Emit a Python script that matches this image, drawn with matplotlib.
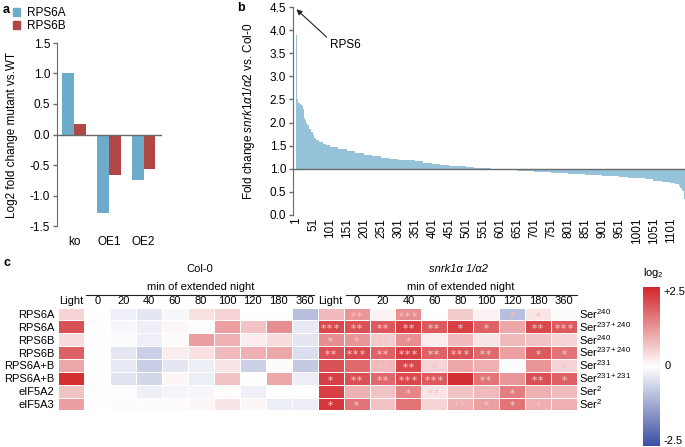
import matplotlib.pyplot as plt
import numpy as np
from matplotlib.colors import LinearSegmentedColormap
from matplotlib.patches import Patch

plt.rcParams['font.family'] = ['Liberation Sans', 'DejaVu Sans']
plt.rcParams['mathtext.fontset'] = 'custom'
plt.rcParams['mathtext.rm'] = 'Liberation Sans'
plt.rcParams['mathtext.it'] = 'Liberation Sans:italic'

# ---- panel a data
a_groups = ['ko', 'OE1', 'OE2']
a_rps6a = [1.0, -1.28, -0.75]
a_rps6b = [0.17, -0.66, -0.57]

# ---- panel b data (rank, fold change)
b_rank = [1, 2, 3, 4, 5, 6, 8, 10, 12, 15, 18, 21, 24, 26, 28, 31, 35, 40, 45, 50,
          55, 60, 70, 80, 90, 100, 125, 150, 175, 200, 225, 250, 275, 300, 325, 350,
          375, 400, 425, 450, 475, 500, 525, 550, 575, 600, 625, 650, 675, 700, 725,
          750, 775, 800, 825, 850, 875, 900, 925, 950, 975, 1000, 1025, 1050, 1075,
          1100, 1115, 1125, 1130, 1135, 1140, 1142]
b_fold = [4.5, 3.9, 2.75, 2.7, 2.5, 2.45, 2.43, 2.42, 2.4, 2.38, 2.35, 2.3, 2.25, 2.1,
          2.05, 2.0, 1.95, 1.87, 1.8, 1.72, 1.66, 1.62, 1.58, 1.54, 1.51, 1.48, 1.43,
          1.38, 1.34, 1.3, 1.27, 1.24, 1.22, 1.2, 1.18, 1.16, 1.13, 1.11, 1.09, 1.07,
          1.05, 1.03, 1.02, 1.01, 1.0, 0.99, 0.97, 0.96, 0.95, 0.93, 0.92, 0.91, 0.9,
          0.89, 0.88, 0.87, 0.86, 0.85, 0.84, 0.82, 0.81, 0.79, 0.77, 0.74, 0.72,
          0.7, 0.66, 0.62, 0.58, 0.52, 0.42, 0.35]
b_ticks = list(range(1, 1102, 50))

# ---- panel c data
c_rows = ['RPS6A', 'RPS6A', 'RPS6B', 'RPS6B', 'RPS6A+B', 'RPS6A+B', 'eIF5A2', 'eIF5A3']
c_sites = [r'Ser$^{240}$', r'Ser$^{237+240}$', r'Ser$^{240}$', r'Ser$^{237+240}$',
           r'Ser$^{231}$', r'Ser$^{231+231}$', r'Ser$^{2}$', r'Ser$^{2}$']
c_cols = ['Light', '0', '20', '40', '60', '80', '100', '120', '180', '360']
c_col0 = [
    [0.5, 0, -0.2, -0.35, -0.1, 0.35, 0.5, 0.0, 0.0, -0.9],
    [2.0, 0, -0.1, -0.2, 0.1, -0.05, 1.1, 0.7, 1.3, -0.3],
    [0.4, 0, -0.05, -0.2, 0.05, 1.1, 0.9, 0.2, 0.4, -0.35],
    [1.8, 0, -0.35, -0.65, 0.2, 0.35, 0.8, 0.9, 1.0, -0.45],
    [1.0, 0, -0.3, -0.7, -0.35, -0.25, 0.3, -0.65, 0.05, -0.75],
    [2.4, 0, -0.4, -0.55, 0.1, -0.25, 0.7, 0.0, 1.0, -0.25],
    [0.7, 0, -0.05, -0.2, -0.15, -0.1, 0.05, -0.2, 0.0, 0.0],
    [1.1, 0, -0.05, -0.05, 0.05, 0.1, 0.3, 0.1, -0.25, -0.25],
]
c_snrk = [
    [0.8, 1.2, 0.15, 1.3, 0.0, 0.6, 0.15, -0.9, 0.3, 0.05],
    [2.1, 2.0, 1.9, 2.2, 1.9, 2.2, 1.8, 1.0, 2.1, 1.9],
    [1.3, 1.2, 0.6, 1.3, 0.2, 0.8, 0.3, 0.8, 0.7, 0.5],
    [2.0, 2.1, 1.8, 2.2, 1.8, 2.0, 1.7, 1.1, 1.9, 1.6],
    [2.0, 1.7, 0.8, 2.1, 0.5, 1.0, 0.9, -0.05, 1.2, 0.5],
    [2.2, 2.0, 1.7, 2.1, 1.9, 2.4, 1.6, 1.2, 2.0, 1.8],
    [2.2, 0.9, 0.7, 1.4, 0.3, 0.7, 0.8, 1.5, 0.9, 0.8],
    [2.3, 1.6, 0.7, 1.6, 0.5, 0.9, 1.1, 1.6, 0.9, 0.9],
]
c_snrk_stars = [
    ['', '**', '', '***', '', '', '', '*', '*', ''],
    ['***', '**', '**', '**', '**', '*', '*', '', '**', '***'],
    ['*', '*', '**', '*', '', '', '', '', '', ''],
    ['**', '***', '**', '***', '**', '***', '**', '', '*', '*'],
    ['', '', '**', '**', '*', '', '', '', '', '*'],
    ['*', '**', '**', '***', '***', '', '**', '', '**', '*'],
    ['', '', '**', '*', '**', '**', '**', '*', '', ''],
    ['*', '*', '***', '', '', '**', '*', '*', '*', ''],
]

W, H = 685, 447
fig = plt.figure(figsize=(W / 100, H / 100), dpi=100)


def box(x0, y0, x1, y1):
    # pixel box (top-left origin) -> figure fraction rect
    return [x0 / W, 1 - y1 / H, (x1 - x0) / W, (y1 - y0) / H]


blue = '#6cacca'
red = '#b04646'
spine_col = '#6a6a6a'
fs = 8.5

# ================= panel a
ax_a = fig.add_axes(box(57, 43, 162, 226))
xa = np.arange(len(a_groups))
bw = 0.343
ax_a.bar(xa - bw / 2, a_rps6a, bw, color=blue, linewidth=0)
ax_a.bar(xa + bw / 2, a_rps6b, bw, color=red, linewidth=0)
ax_a.axhline(0, color=spine_col, lw=1)
ax_a.set_xlim(-0.49, 2.53)
ax_a.set_ylim(-1.5, 1.5)
ax_a.set_yticks(np.arange(-1.5, 1.51, 0.5))
ax_a.set_yticklabels(['%.1f' % v for v in np.arange(-1.5, 1.51, 0.5)], fontsize=fs)
ax_a.set_xticks(xa)
ax_a.set_xticklabels(a_groups, fontsize=fs)
ax_a.tick_params(axis='x', length=0, pad=7)
ax_a.tick_params(axis='y', length=3, color=spine_col, width=1, pad=2)
for s in ['top', 'right', 'bottom']:
    ax_a.spines[s].set_visible(False)
ax_a.spines['left'].set_color(spine_col)
ax_a.set_ylabel('Log2 fold change mutant vs.WT', fontsize=fs)
ax_a.yaxis.set_label_coords(-0.37, 0.5)

fig.legend(handles=[Patch(color=blue, label='RPS6A'), Patch(color=red, label='RPS6B')],
           loc='upper left', bbox_to_anchor=(13 / W, 1 - 7 / H), frameon=False,
           fontsize=fs, handlelength=0.6, handleheight=0.6, handletextpad=0.6,
           labelspacing=0.1, borderaxespad=0, borderpad=0)

# ================= panel b
ax_b = fig.add_axes(box(293, 7, 685, 215))
widths = np.append(np.diff(b_rank), 1)
ax_b.bar(np.array(b_rank) - 0.5, np.array(b_fold) - 1, width=widths, bottom=1,
         align='edge', color='#96c3da', linewidth=0)
ax_b.axhline(1.0, color=spine_col, lw=1)
ax_b.set_xlim(-8, 1143)
ax_b.set_ylim(0, 4.5)
ax_b.set_yticks(np.arange(0, 4.51, 0.5))
ax_b.set_yticklabels(['%.1f' % v for v in np.arange(0, 4.51, 0.5)], fontsize=fs)
ax_b.set_xticks(b_ticks)
ax_b.set_xticklabels([str(t) for t in b_ticks], fontsize=fs, rotation=90)
ax_b.tick_params(axis='x', length=0, pad=2)
ax_b.tick_params(axis='y', length=3, color=spine_col, width=1, pad=2)
for s in ['top', 'right', 'bottom']:
    ax_b.spines[s].set_visible(False)
ax_b.spines['left'].set_color(spine_col)
ax_b.set_ylabel(r'Fold change $\mathit{snrk1α1/α2}$ vs. Col-0', fontsize=fs)
ax_b.yaxis.set_label_coords(-0.093, 0.5)
ax_b.annotate('RPS6', xy=(2, 4.45), xytext=(102, 3.67), fontsize=fs,
              ha='left', va='center',
              arrowprops=dict(arrowstyle='-|>', color='#222222', lw=0.8,
                              relpos=(0.0, 0.9), shrinkA=1, shrinkB=0,
                              mutation_scale=8))

# ================= panel c
cmap = LinearSegmentedColormap.from_list('bwr_c', ['#3b4ea2', '#ffffff', '#d1262b'])
mat = np.hstack([np.array(c_col0), np.array(c_snrk)])
ax_c = fig.add_axes(box(58.3, 307.6, 577, 410.4))
mesh = ax_c.pcolormesh(np.arange(mat.shape[1] + 1), np.arange(mat.shape[0] + 1), mat,
                       cmap=cmap, vmin=-2.5, vmax=2.5, edgecolors='white', linewidth=0.7)
ax_c.set_xlim(0, mat.shape[1])
ax_c.set_ylim(mat.shape[0], 0)
for s in ax_c.spines.values():
    s.set_visible(False)
ax_c.set_xticks([])
ax_c.set_yticks(np.arange(len(c_rows)) + 0.5)
ax_c.set_yticklabels(c_rows, fontsize=8)
ax_c.tick_params(axis='y', length=0, pad=3)

for i, row in enumerate(c_snrk_stars):
    for j, st in enumerate(row):
        if st:
            ax_c.text(10 + j + 0.5, i + 0.5, '\u2217' * len(st), ha='center', va='center',
                      fontsize=6, color='#f6c2c2', family='DejaVu Sans')

for i, lab in enumerate(c_sites):
    ax_c.text(20.08, i + 0.5, lab, ha='left', va='center', fontsize=8, clip_on=False)

for k, blk in enumerate([0, 10]):
    for j, lab in enumerate(c_cols):
        ax_c.text(blk + j + 0.5, -0.55, lab, ha='center', va='center', fontsize=8,
                  clip_on=False)
    ax_c.plot([blk + 1.08, blk + 9.85 + 0.15 * k], [-1.0, -1.0], color='#222222', lw=0.8,
              clip_on=False)
    ax_c.text(blk + 5.5, -1.6, 'min of extended night', ha='center', va='center',
              fontsize=8, clip_on=False)
ax_c.text(5.45, -3.0, 'Col-0', ha='center', va='center', fontsize=8, clip_on=False)
ax_c.text(15.45, -3.0, 'snrk1α 1/α2', ha='center', va='center', fontsize=8,
          style='italic', clip_on=False)

cax = fig.add_axes(box(643, 287, 660, 446))
cb = fig.colorbar(mesh, cax=cax)
cb.outline.set_visible(False)
cb.set_ticks([])
fig.text(643 / W, 1 - 273 / H, r'log$_2$', fontsize=8, ha='left', va='center')
fig.text(663 / W, 1 - 292 / H, '+2.5', fontsize=8, ha='left', va='center')
fig.text(665 / W, 1 - 366 / H, '0', fontsize=8, ha='left', va='center')
fig.text(663 / W, 1 - 441 / H, '-2.5', fontsize=8, ha='left', va='center')

# panel letters
fig.text(3 / W, 1 - 10 / H, 'a', fontsize=9, fontweight='bold', va='center')
fig.text(237 / W, 1 - 8 / H, 'b', fontsize=9, fontweight='bold', va='center')
fig.text(3 / W, 1 - 263 / H, 'c', fontsize=9, fontweight='bold', va='center')

fig.savefig('out.png', dpi=100)
